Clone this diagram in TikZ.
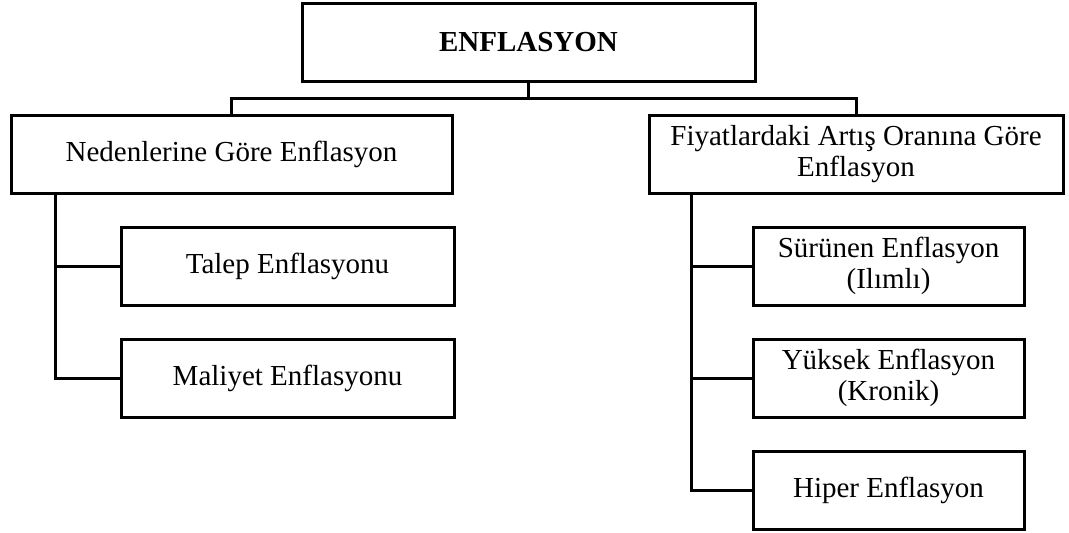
\documentclass[tikz,border=0pt]{standalone}
\usepackage{fontspec}
\setmainfont{Liberation Serif}
\begin{document}
\begin{tikzpicture}[x=1pt,y=-1pt,
  box/.style={draw, line width=3pt, inner sep=0pt, outer sep=0pt, align=center,
    font=\fontsize{29}{31}\selectfont},
  conn/.style={line width=3pt}]
\useasboundingbox[fill=white] (0,0) rectangle (1069,533);
\node[box, minimum width=453pt, minimum height=78pt, font=\fontsize{29}{31}\selectfont\bfseries] (top) at (528.5,42) {ENFLASYON};
\node[box, minimum width=441pt, minimum height=78pt] (left) at (231.5,154) {Nedenlerine Göre Enflasyon};
\node[box, minimum width=414pt, minimum height=78pt] (right) at (856,154) {Fiyatlardaki Artış Oranına Göre\\Enflasyon};
\node[box, minimum width=333pt, minimum height=78pt] (talep) at (287.5,266) {Talep Enflasyonu};
\node[box, minimum width=333pt, minimum height=78pt] (maliyet) at (287.5,378) {Maliyet Enflasyonu};
\node[box, minimum width=271pt, minimum height=78pt] (surunen) at (888.5,266) {Sürünen Enflasyon\\(Ilımlı)};
\node[box, minimum width=271pt, minimum height=78pt] (yuksek) at (888.5,378) {Yüksek Enflasyon\\(Kronik)};
\node[box, minimum width=271pt, minimum height=78pt] (hiper) at (888.5,490) {Hiper Enflasyon};
\coordinate (j) at (528.5,98);
\draw[conn] (top.south) -- (j);
\draw[conn] (left.north) |- (j) -| (right.north);
\coordinate (lv) at ([xshift=44pt]left.south west);
\coordinate (rv) at ([xshift=42pt]right.south west);
\draw[conn] (lv) |- (talep.west);
\draw[conn] (lv) |- (maliyet.west);
\draw[conn] (rv) |- (surunen.west);
\draw[conn] (rv) |- (yuksek.west);
\draw[conn] (rv) |- (hiper.west);
\end{tikzpicture}
\end{document}
